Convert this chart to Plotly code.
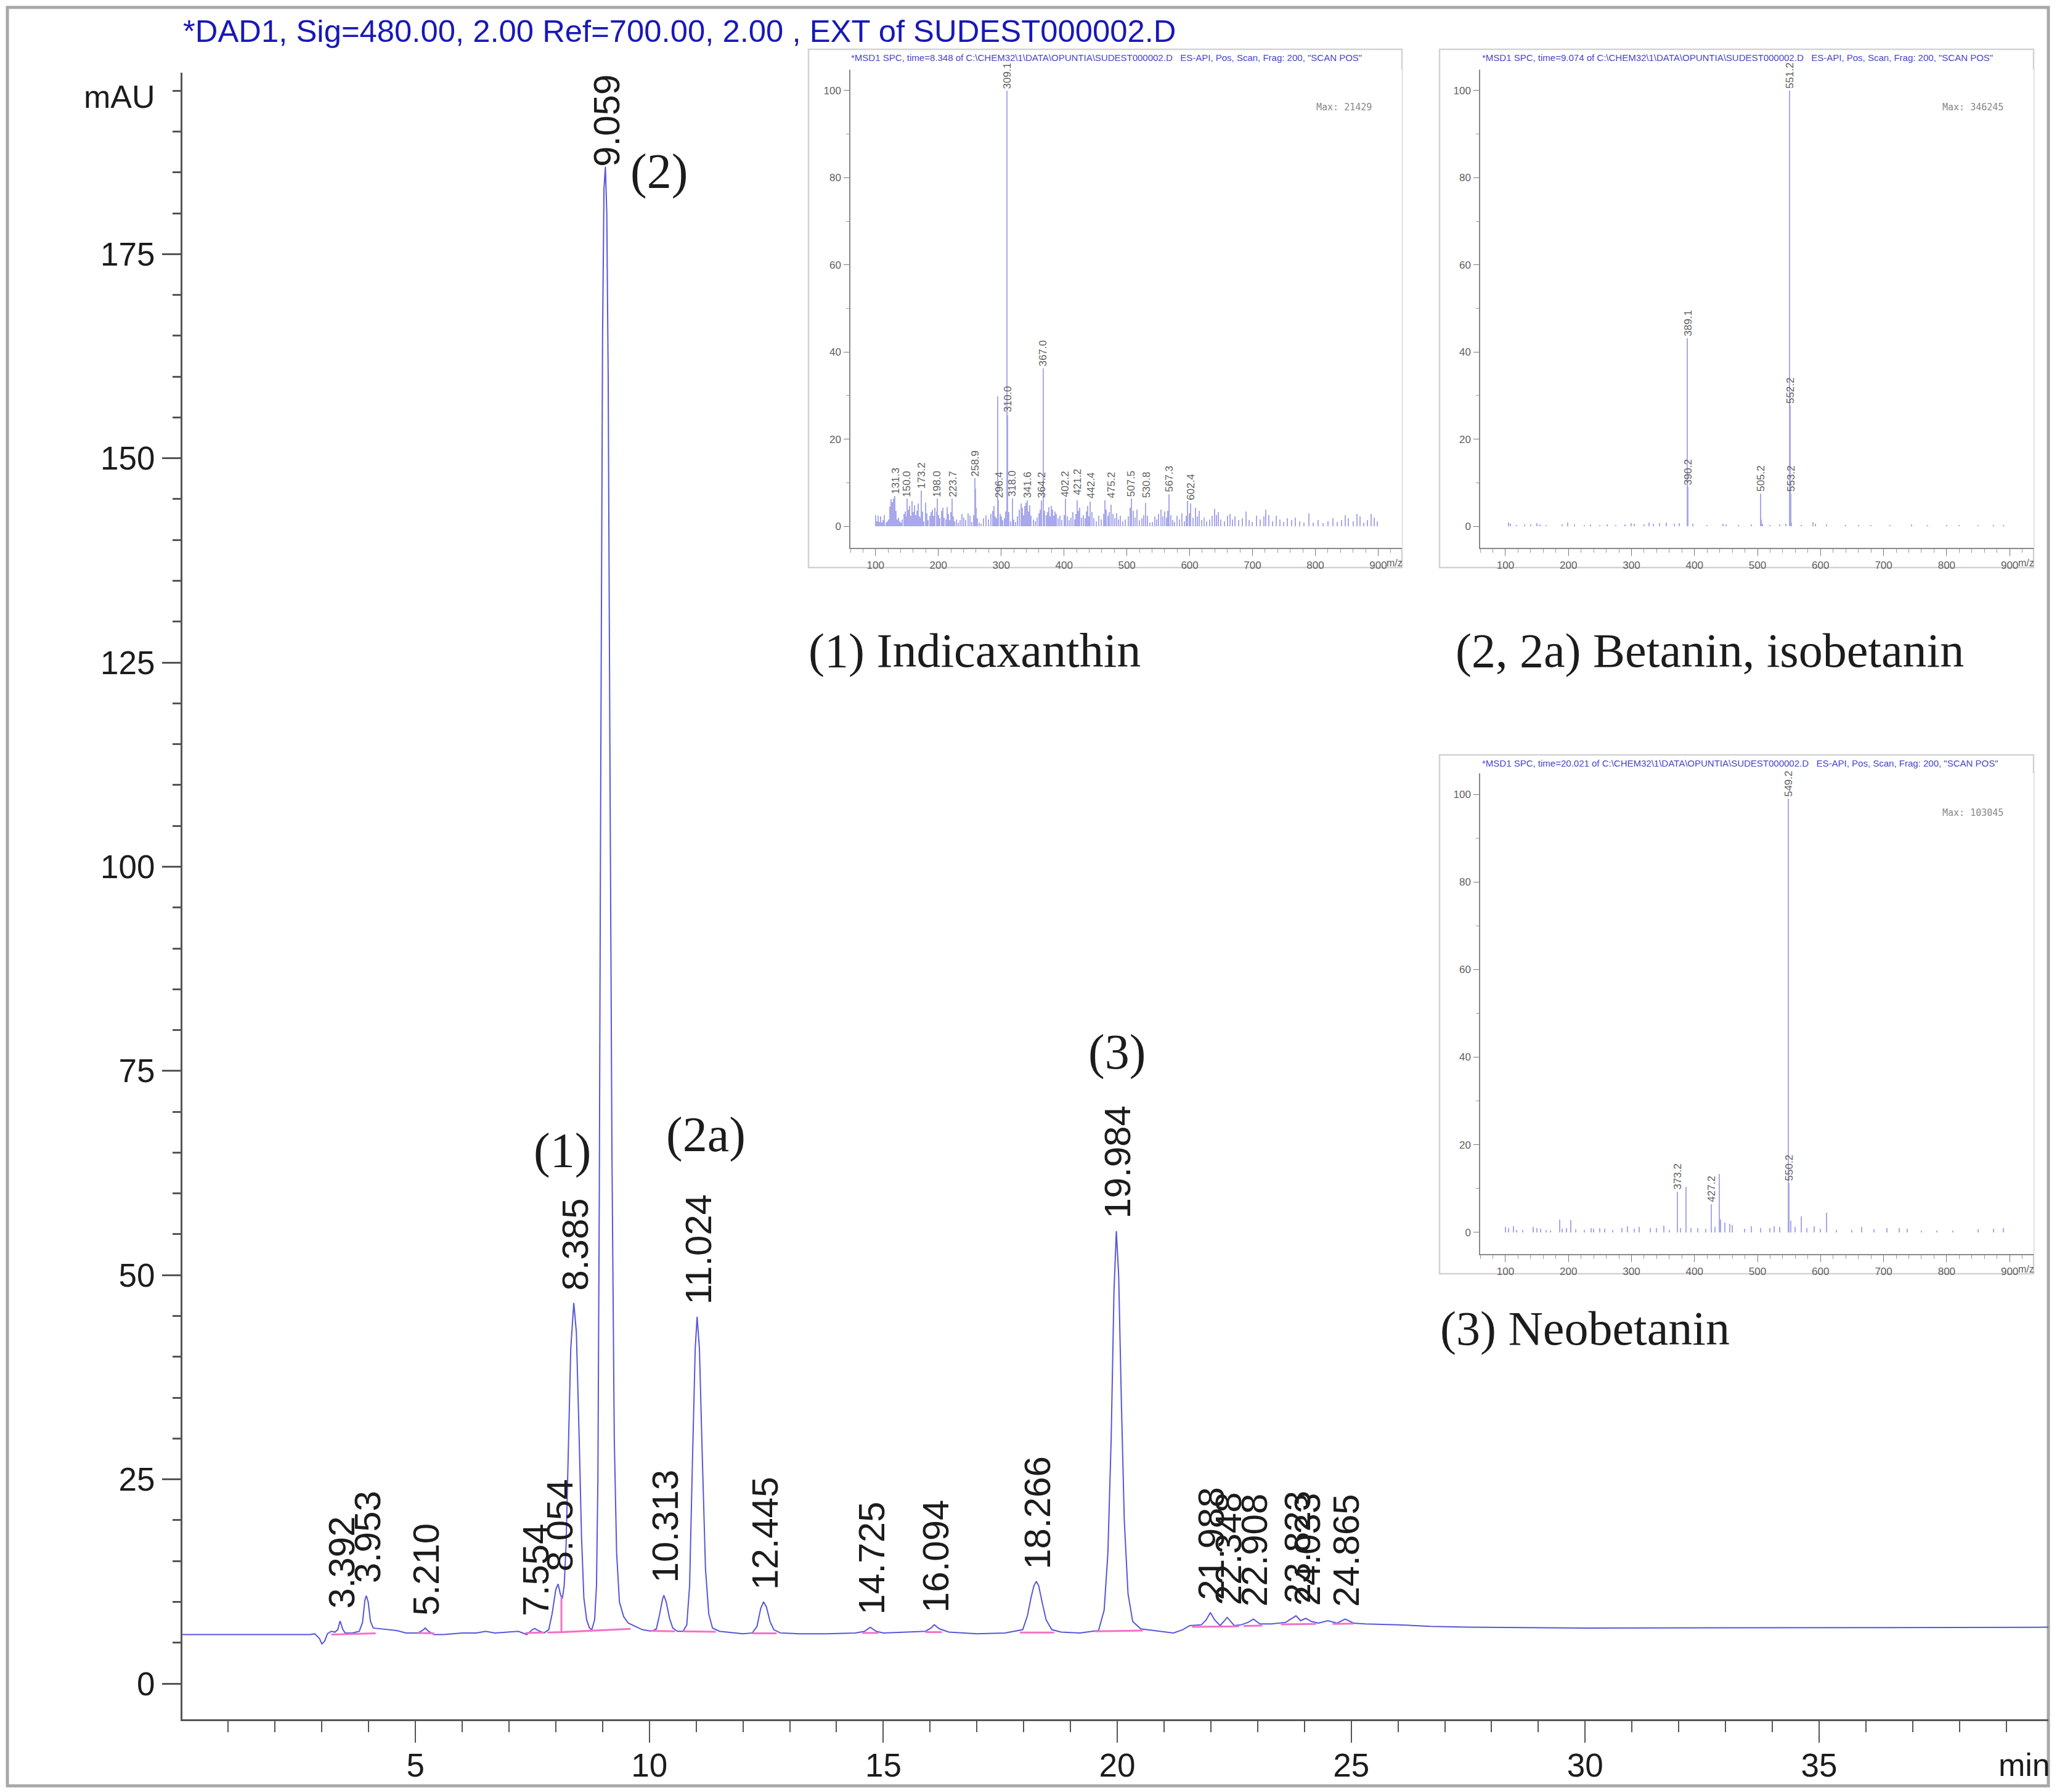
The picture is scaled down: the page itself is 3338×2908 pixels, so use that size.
import plotly.graph_objects as go

# main chromatogram (min, mAU)
trace_time = [
    0.0, 1.0, 2.0, 2.75, 2.85, 2.95, 3.0, 3.06, 3.12, 3.2, 3.28, 3.34, 3.39, 3.45, 3.5, 3.65, 3.8, 3.87, 3.92, 3.95,
    3.99, 4.04, 4.1, 4.3, 4.6, 4.8, 5.05, 5.15, 5.21, 5.28, 5.4, 5.6, 6.0, 6.3, 6.5, 6.7, 7.0, 7.2, 7.38, 7.5,
    7.55, 7.62, 7.75, 7.85, 7.92, 8.0, 8.05, 8.1, 8.14, 8.18, 8.22, 8.27, 8.32, 8.385, 8.44, 8.5, 8.55, 8.6, 8.66, 8.72,
    8.77, 8.83, 8.87, 8.9, 8.93, 8.96, 9.0, 9.03, 9.06, 9.09, 9.12, 9.16, 9.2, 9.25, 9.3, 9.36, 9.45, 9.55, 9.7, 9.85,
    10.05, 10.15, 10.22, 10.28, 10.31, 10.36, 10.43, 10.5, 10.6, 10.72, 10.8, 10.86, 10.92, 10.98, 11.02, 11.07, 11.13, 11.2, 11.27, 11.35,
    11.5, 12.0, 12.2, 12.3, 12.38, 12.44, 12.5, 12.58, 12.66, 12.8, 13.2, 13.8, 14.4, 14.6, 14.72, 14.85, 15.0, 15.5, 15.9, 16.02,
    16.09, 16.2, 16.4, 17.0, 17.6, 17.98, 18.08, 18.16, 18.22, 18.27, 18.32, 18.4, 18.48, 18.6, 18.8, 19.2, 19.6, 19.72, 19.8, 19.87,
    19.93, 19.98, 20.03, 20.09, 20.15, 20.23, 20.33, 20.5, 20.9, 21.2, 21.4, 21.55, 21.8, 21.9, 21.99, 22.08, 22.2, 22.35, 22.5, 22.65,
    22.8, 22.91, 23.05, 23.3, 23.6, 23.82, 23.92, 24.03, 24.15, 24.3, 24.5, 24.7, 24.87, 25.05, 25.3, 26.0, 26.7, 27.5, 30.0, 33.0,
    36.0, 39.9,
]
trace_mau = [
    6.0, 6.0, 6.0, 6.0, 6.1, 5.5, 4.85, 5.2, 6.1, 6.4, 6.3, 6.6, 7.66, 6.6, 6.2, 6.2, 6.4, 7.5, 10.2, 10.75,
    10.0, 7.6, 6.8, 6.7, 6.5, 6.2, 6.2, 6.5, 6.8, 6.4, 6.0, 6.0, 6.2, 6.2, 6.4, 6.2, 6.3, 6.4, 6.0, 6.6,
    6.75, 6.5, 6.2, 6.6, 8.5, 11.5, 12.2, 10.9, 10.4, 12.0, 17.0, 30.0, 41.0, 46.6, 43.0, 30.0, 18.0, 10.5, 7.8, 6.8,
    6.6, 7.8, 12.0, 25.0, 60.0, 110.0, 165.0, 183.0, 185.7, 180.0, 160.0, 110.0, 65.0, 30.0, 16.0, 10.0, 8.2, 7.4, 7.0, 6.6,
    6.4, 6.7, 8.5, 10.3, 10.8, 10.0, 8.0, 6.8, 6.4, 6.4, 7.2, 12.0, 27.0, 41.0, 44.9, 41.0, 28.0, 14.0, 8.5, 6.8,
    6.4, 6.1, 6.2, 7.0, 9.2, 10.0, 9.4, 7.6, 6.6, 6.2, 6.1, 6.1, 6.2, 6.4, 6.9, 6.4, 6.2, 6.3, 6.4, 6.8,
    7.2, 6.7, 6.3, 6.1, 6.2, 6.6, 8.3, 10.6, 12.0, 12.5, 12.0, 9.8, 7.8, 6.6, 6.3, 6.2, 6.5, 9.0, 16.0, 30.0,
    48.0, 55.4, 50.0, 34.0, 20.0, 11.0, 7.6, 6.7, 6.4, 6.2, 6.6, 7.1, 7.2, 7.8, 8.7, 7.8, 7.1, 8.1, 7.1, 7.2,
    7.5, 7.9, 7.3, 7.3, 7.5, 8.3, 7.7, 8.0, 7.6, 7.4, 7.7, 7.4, 7.9, 7.4, 7.3, 7.2, 7.0, 6.9, 6.8, 6.8,
    6.85, 6.9,
]
# integration baseline, gaps between the integrated peaks
base_time = [3.2, 4.15, None, 5.05, 5.4, None, 7.35, 7.75, None, 7.82, 8.12, 8.12, 8.12, 9.6, None, 10.02, 10.55, None, 10.72, 11.42,
             None, 12.2, 12.72, None, 14.55, 14.9, None, 15.9, 16.25, None, 17.92, 18.65, None, 19.52, 20.55, None, 21.6, 22.6, None, 22.7, 23.1,
             None, 23.5, 24.25, None, 24.6, 25.05]
base_mau = [6.0, 6.15, None, 6.2, 6.15, None, 6.2, 6.25, None, 6.25, 6.3, 10.6, 6.3, 6.7, None, 6.45, 6.4, None, 6.4, 6.35,
            None, 6.15, 6.15, None, 6.2, 6.2, None, 6.3, 6.3, None, 6.25, 6.25, None, 6.4, 6.5, None, 6.95, 7.0, None, 7.05, 7.1,
            None, 7.25, 7.3, None, 7.3, 7.35]

peak_labels = ["3.392", "3.953", "5.210", "7.554", "8.054", "8.385", "9.059", "10.313", "11.024", "12.445", "14.725", "16.094",
               "18.266", "19.984", "21.988", "22.348", "22.908", "23.823", "24.033", "24.865"]
peak_heights = [7.66, 10.75, 6.8, 6.75, 12.2, 46.6, 185.7, 10.8, 44.9, 10.0, 6.9, 7.2, 12.5, 55.4, 8.7, 8.1, 7.9, 8.3, 8.0, 7.9]

x_ticks = [5, 10, 15, 20, 25, 30, 35]
y_ticks = [0, 25, 50, 75, 100, 125, 150, 175]

spec_ticks_x = [100, 200, 300, 400, 500, 600, 700, 800, 900]
spec_ticks_y = [0, 20, 40, 60, 80, 100]

# spectrum 1 (indicaxanthin)
mz1 = [
    100, 102, 104, 106, 108, 110, 112, 114, 117, 119,
    121, 123, 125, 127, 129, 131, 133, 135, 137, 139,
    141, 143, 145, 147, 149, 150, 152, 154, 156, 158,
    160, 162, 164, 166, 168, 170, 172, 173, 175, 177,
    180, 182, 184, 187, 189, 191, 193, 195, 197, 198,
    200, 202, 205, 207, 209, 212, 214, 216, 218, 220,
    222, 224, 226, 229, 232, 235, 238, 241, 244, 247,
    250, 253, 256, 258, 259, 260, 262, 265, 268, 272,
    276, 280, 284, 287, 289, 291, 293, 295, 296, 298,
    300, 302, 305, 307, 309, 310, 312, 315, 318, 320,
    323, 326, 329, 332, 334, 336, 338, 340, 342, 344,
    346, 348, 351, 354, 357, 360, 362, 364, 367, 369,
    372, 374, 376, 378, 380, 382, 384, 386, 388, 391,
    394, 397, 400, 402, 405, 408, 411, 414, 417, 419,
    421, 423, 425, 428, 431, 434, 436, 438, 440, 442,
    445, 448, 451, 455, 459, 463, 465, 467, 470, 472,
    475, 478, 481, 484, 487, 490, 494, 498, 502, 505,
    507, 510, 513, 516, 520, 524, 527, 530, 533, 537,
    541, 545, 548, 551, 554, 557, 560, 563, 565, 567,
    570, 573, 576, 580, 584, 588, 592, 595, 597, 600,
    602, 605, 609, 612, 615, 619, 623, 627, 632, 636,
    640, 643, 646, 650, 655, 660, 664, 668, 672, 678,
    684, 690, 695, 700, 706, 712, 718, 721, 726, 732,
    738, 744, 750, 756, 762, 768, 775, 782, 790, 797,
    805, 812, 820, 828, 835, 842, 848, 853, 860, 866,
    871, 877, 883, 889, 894, 899,
]
ab1 = [
    2.6, 1.2, 2.4, 1.0, 2.2, 0.8, 1.4, 2.6, 0.9, 1.1,
    1.6, 4.5, 6.2, 5.5, 6.4, 7.0, 3.6, 1.5, 2.0, 1.2,
    0.9, 1.6, 2.8, 3.4, 2.2, 6.3, 3.8, 4.6, 2.4, 5.8,
    3.2, 4.8, 2.6, 3.6, 5.2, 2.2, 2.0, 8.2, 3.4, 1.2,
    5.4, 3.0, 1.4, 2.4, 3.2, 3.8, 2.4, 4.2, 3.4, 6.3,
    2.6, 1.8, 3.6, 4.2, 2.0, 1.6, 4.4, 2.8, 1.4, 3.2,
    6.3, 2.2, 1.2, 1.6, 0.9, 1.4, 2.8, 2.0, 1.4, 3.0,
    2.4, 1.0, 2.6, 11.0, 8.6, 4.2, 1.8, 0.8, 0.6, 1.8,
    2.6, 1.6, 2.8, 3.6, 4.6, 2.2, 1.8, 29.8, 6.0, 2.8,
    2.2, 1.4, 1.8, 3.4, 100.0, 25.5, 3.2, 1.2, 6.3, 1.6,
    1.0, 2.2, 3.8, 5.2, 4.2, 2.6, 4.6, 5.4, 6.0, 3.4,
    4.8, 2.4, 1.6, 1.2, 2.0, 3.0, 3.8, 6.0, 36.2, 3.6,
    2.6, 3.2, 4.4, 2.2, 4.6, 3.8, 2.4, 3.4, 2.8, 1.8,
    2.4, 1.4, 2.6, 6.3, 2.2, 1.4, 2.0, 3.2, 1.6, 2.8,
    6.0, 3.6, 4.2, 2.0, 2.6, 1.8, 3.4, 4.6, 2.2, 5.6,
    3.2, 1.8, 1.2, 2.4, 1.6, 2.8, 6.0, 3.8, 2.4, 3.2,
    5.0, 2.8, 1.8, 3.0, 1.6, 2.4, 1.2, 1.6, 2.2, 4.2,
    6.3, 3.6, 2.0, 3.8, 1.4, 1.8, 2.6, 5.4, 2.4, 0.8,
    1.0, 2.2, 1.6, 2.8, 3.8, 2.2, 3.4, 2.0, 3.6, 7.4,
    2.6, 1.4, 1.0, 2.4, 1.6, 3.0, 1.2, 2.4, 5.8, 3.0,
    5.2, 2.0, 4.2, 2.2, 3.6, 1.4, 2.0, 1.2, 1.6, 2.4,
    4.0, 2.6, 3.2, 1.6, 1.2, 2.4, 2.8, 1.6, 2.2, 1.4,
    1.8, 3.4, 1.4, 1.0, 2.4, 1.6, 2.2, 3.8, 2.6, 1.2,
    2.4, 1.6, 1.0, 1.8, 1.4, 2.0, 1.2, 0.8, 3.0, 0.8,
    1.4, 0.7, 1.2, 1.8, 1.0, 1.4, 2.6, 1.8, 1.2, 2.8,
    2.2, 0.9, 1.4, 2.8, 2.0, 1.2,
]
labels1 = ["131.3", "150.0", "173.2", "198.0", "223.7", "258.9", "296.4", "309.1", "310.0", "318.0", "341.6",
           "364.2", "367.0", "402.2", "421.2", "442.4", "475.2", "507.5", "530.8", "567.3", "602.4"]
label_ab1 = [7.0, 6.3, 8.2, 6.3, 6.3, 11.0, 6.0, 100.0, 25.8, 6.3, 6.0, 6.0, 36.2, 6.3, 6.7, 6.0, 6.0, 6.3, 6.0, 7.4, 5.5]

# spectrum 2 (betanin, isobetanin)
mz2 = [
    105, 108, 118, 131, 140, 150, 155, 165, 190, 199,
    210, 225, 235, 250, 262, 275, 290, 300, 305, 320,
    328, 335, 345, 355, 368, 376, 389, 390, 397, 420,
    445, 450, 470, 490, 505, 506, 508, 520, 535, 545,
    551, 552, 553, 554, 570, 588, 592, 610, 640, 660,
    680, 710, 745, 770, 800, 820, 850, 875, 890,
]
ab2 = [
    0.8, 0.6, 0.3, 0.4, 0.4, 0.7, 0.4, 0.3, 0.4, 0.8,
    0.4, 0.3, 0.4, 0.3, 0.4, 0.3, 0.4, 0.7, 0.5, 0.4,
    0.8, 0.5, 0.7, 0.8, 0.6, 0.7, 43.2, 9.0, 0.6, 0.3,
    0.6, 0.4, 0.3, 0.4, 7.5, 1.6, 0.6, 0.3, 0.4, 0.5,
    100.0, 27.7, 7.5, 0.9, 0.3, 1.0, 0.6, 0.4, 0.3, 0.3,
    0.3, 0.3, 0.4, 0.2, 0.2, 0.2, 0.3, 0.3, 0.3,
]
labels2 = ["389.1", "390.2", "505.2", "551.2", "552.2", "553.2"]
label_ab2 = [43.2, 9.0, 7.5, 100.0, 27.7, 7.5]

# spectrum 3 (neobetanin)
mz3 = [
    100, 105, 113, 118, 128, 144, 150, 156, 165, 172,
    186, 190, 197, 204, 212, 225, 236, 240, 250, 258,
    270, 285, 294, 305, 312, 330, 340, 352, 360, 373,
    378, 387, 395, 405, 418, 427, 433, 440, 441, 448,
    456, 460, 480, 490, 505, 520, 527, 535, 549, 550,
    553, 560, 570, 578, 590, 600, 610, 625, 650, 665,
    685, 705, 725, 738, 760, 785, 810, 850, 875, 890,
]
ab3 = [
    1.3, 1.0, 1.4, 0.5, 0.6, 1.2, 1.0, 0.8, 0.5, 0.4,
    3.0, 0.8, 1.0, 2.8, 0.7, 0.6, 1.0, 0.8, 1.0, 0.8,
    0.6, 1.0, 1.4, 0.8, 1.2, 0.9, 1.0, 1.5, 0.6, 9.3,
    1.0, 10.4, 1.0, 1.0, 0.8, 6.5, 1.2, 13.4, 3.0, 2.2,
    2.0, 1.6, 0.8, 1.4, 0.9, 1.0, 1.4, 1.2, 99.0, 11.3,
    2.6, 1.2, 3.7, 1.0, 1.4, 0.8, 4.5, 0.5, 0.6, 1.2,
    0.7, 0.9, 1.0, 0.8, 0.4, 0.4, 0.4, 0.7, 0.8, 1.0,
]
labels3 = ["373.2", "427.2", "549.2", "550.2"]
label_ab3 = [9.3, 6.5, 99.0, 11.3]

# the page keeps the browser's 8px body margin, so the figure starts at 8,8
PAGE = 8
W = 3338 - PAGE
H = 2908 - PAGE
BLUE = "#5656d8"
TITLE_BLUE = "#1818b8"
INK = "#1c1c1c"
SPEC_BLUE = "#a8a8ea"
SANS = "Liberation Sans"
SERIF = "Liberation Serif"


def fx(px):
    return (px - PAGE) / W


def fy(px):
    return 1 - (px - PAGE) / H


def dom_x(a, b):
    return [fx(a), fx(b)]


def dom_y(top, bottom):
    return [fy(bottom), fy(top)]


fig = go.Figure()
fig.add_trace(go.Scatter(x=trace_time, y=trace_mau, mode="lines", line=dict(color=BLUE, width=2.0), showlegend=False))
fig.add_trace(go.Scatter(x=base_time, y=base_mau, mode="lines", line=dict(color="#f470c8", width=3), showlegend=False))

annotations = []
for lab, h in zip(peak_labels, peak_heights):
    annotations.append(dict(x=float(lab), y=h, xref="x", yref="y", text=lab, textangle=-90, showarrow=False,
                            yanchor="bottom", xanchor="center", xshift=2, yshift=-1 if lab == "9.059" else 19, borderpad=0,
                            font=dict(family=SANS, size=60, color=INK)))


def note(text, x, y, size, family=SERIF, color=INK, anchor="center"):
    annotations.append(dict(x=fx(x), y=fy(y), xref="paper", yref="paper", text=text, showarrow=False,
                            xanchor=anchor, yanchor="middle", borderpad=0,
                            font=dict(family=family, size=size, color=color)))


note("*DAD1, Sig=480.00, 2.00 Ref=700.00, 2.00 , EXT of SUDEST000002.D", 296, 50, 50.8, SANS, TITLE_BLUE, "left")
note("mAU", 194, 157, 52, SANS)
note("min", 3285, 2864, 52, SANS)
note("(1)", 913, 1867, 80)
note("(2)", 1069, 279, 80)
note("(2a)", 1145, 1841, 80)
note("(3)", 1812, 1708, 80)
note("(1) Indicaxanthin", 1311, 1056, 78, anchor="left")
note("(2, 2a) Betanin, isobetanin", 2361, 1056, 78, anchor="left")
note("(3) Neobetanin", 2336, 2155, 78, anchor="left")

layout = dict(
    width=W, height=H, autosize=False, showlegend=False,
    margin=dict(l=0, r=0, t=0, b=0, pad=0),
    paper_bgcolor="white", plot_bgcolor="white",
    bargap=0, barmode="overlay",
    xaxis=dict(domain=dom_x(296, 3324), range=[0.02, 39.9], tickmode="array", tickvals=x_ticks, ticktext=[str(v) for v in x_ticks],
               ticks="outside", ticklen=35, tickwidth=2, tickcolor="#555555", showline=True, linecolor="#555555", linewidth=3,
               showgrid=False, zeroline=False, ticklabelstandoff=-9, tickfont=dict(family=SANS, size=53, color=INK),
               minor=dict(dtick=1, tick0=0, ticks="outside", ticklen=18, tickwidth=2, tickcolor="#555555", showgrid=False),
               anchor="y"),
    yaxis=dict(domain=dom_y(118, 2790), range=[-4.37, 197.2], tickmode="array", tickvals=y_ticks, ticktext=[str(v) for v in y_ticks],
               ticks="outside", ticklen=30, tickwidth=3, tickcolor="#555555", showline=True, linecolor="#555555", linewidth=3,
               showgrid=False, zeroline=False, ticklabelstandoff=1, tickfont=dict(family=SANS, size=53, color=INK),
               minor=dict(dtick=5, tick0=0, ticks="outside", ticklen=13, tickwidth=3, tickcolor="#555555", showgrid=False),
               anchor="x"),
)

# the three MS spectra sit on their own axes inside the page
insets = [
    dict(mz=mz1, ab=ab1, labels=labels1, label_ab=label_ab1, left=1312, right=2275, top=80, bottom=921, x_axis=1380, y_axis_top=113, x_axis_y=889,
         xr=[60, 937.8], yr=[-4.95, 104.8], width=1.3, time="8.348", max_text="Max: 21429"),
    dict(mz=mz2, ab=ab2, labels=labels2, label_ab=label_ab2, left=2336, right=3300, top=80, bottom=921, x_axis=2402, y_axis_top=113, x_axis_y=889,
         xr=[60, 938], yr=[-4.95, 104.8], width=1.3, time="9.074", max_text="Max: 346245"),
    dict(mz=mz3, ab=ab3, labels=labels3, label_ab=label_ab3, left=2336, right=3300, top=1225, bottom=2067, x_axis=2402, y_axis_top=1255, x_axis_y=2035,
         xr=[60, 938], yr=[-4.95, 104.8], width=1.3, time="20.021", max_text="Max: 103045"),
]

shapes = [dict(type="rect", xref="paper", yref="paper", x0=fx(12), x1=fx(3324), y0=fy(2898), y1=fy(12),
               line=dict(color="#a8a8a8", width=5), fillcolor="rgba(0,0,0,0)", layer="below")]

for n, ins in enumerate(insets, start=2):
    xname, yname = "x%d" % n, "y%d" % n
    fig.add_trace(go.Bar(x=ins["mz"], y=ins["ab"], width=ins["width"], marker=dict(color=SPEC_BLUE, line=dict(width=0)),
                         xaxis=xname, yaxis=yname, showlegend=False))
    layout["xaxis%d" % n] = dict(domain=dom_x(ins["x_axis"], ins["right"]), range=ins["xr"], tickmode="array", tickvals=spec_ticks_x,
                                 ticktext=[str(v) for v in spec_ticks_x], ticks="outside", ticklen=11, tickwidth=1, tickcolor="#777777",
                                 showline=True, linecolor="#888888", linewidth=1.5, showgrid=False, zeroline=False, ticklabelstandoff=1,
                                 tickfont=dict(family=SANS, size=17, color="#606060"),
                                 minor=dict(dtick=20, tick0=0, ticks="outside", ticklen=6, tickwidth=1, tickcolor="#999999", showgrid=False),
                                 anchor=yname)
    layout["yaxis%d" % n] = dict(domain=dom_y(ins["y_axis_top"], ins["x_axis_y"]), range=ins["yr"], tickmode="array", tickvals=spec_ticks_y,
                                 ticktext=[str(v) for v in spec_ticks_y], ticks="outside", ticklen=9, tickwidth=1, tickcolor="#777777",
                                 showline=True, linecolor="#888888", linewidth=1.5, showgrid=False, zeroline=False, ticklabelstandoff=1,
                                 tickfont=dict(family=SANS, size=17, color="#606060"),
                                 minor=dict(dtick=10, tick0=0, ticks="outside", ticklen=5, tickwidth=1, tickcolor="#999999", showgrid=False),
                                 anchor=xname)
    shapes.append(dict(type="rect", xref="paper", yref="paper", x0=fx(ins["left"]), x1=fx(ins["right"]),
                       y0=fy(ins["bottom"]), y1=fy(ins["top"]), line=dict(color="#d2d2d2", width=2.5),
                       fillcolor="rgba(0,0,0,0)", layer="below"))
    for lab, a in zip(ins["labels"], ins["label_ab"]):
        annotations.append(dict(x=float(lab), y=a, xref=xname, yref=yname, text=lab, textangle=-90, showarrow=False, yanchor="bottom",
                                xanchor="center", yshift=2, borderpad=0, font=dict(family=SANS, size=17, color="#606060")))
    head = '*MSD1 SPC, time=%s of C:\\CHEM32\\1\\DATA\\OPUNTIA\\SUDEST000002.D   ES-API, Pos, Scan, Frag: 200, "SCAN POS"' % ins["time"]
    note(head, ins["left"] + 68, ins["top"] + 13, 15, SANS, "#4848c8", "left")
    note(ins["max_text"], ins["right"] - 48, ins["top"] + 94, 15, "DejaVu Sans Mono", "#8a8a8a", "right")
    note("m/z", ins["right"] - 12, ins["x_axis_y"] + 24, 16, SANS, "#606060")

layout["annotations"] = annotations
layout["shapes"] = shapes
fig.update_layout(**layout)

fig.write_html("out.html")
